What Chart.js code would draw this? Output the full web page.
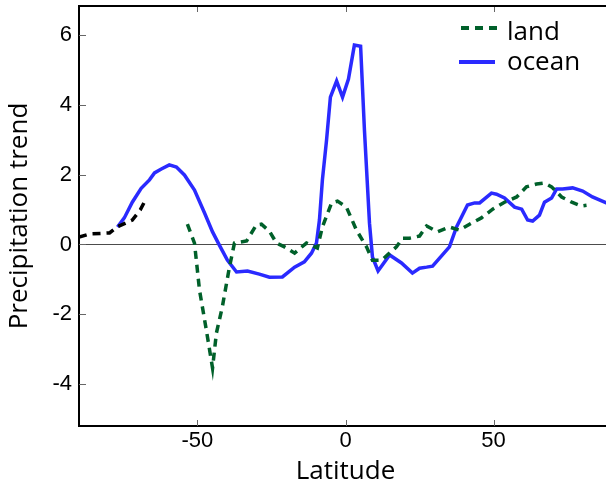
<!DOCTYPE html>
<html>
<head>
<meta charset="utf-8">
<script src="https://cdn.jsdelivr.net/npm/chart.js@4.4.1/dist/chart.umd.min.js"></script>
<style>
  html, body { margin: 0; padding: 0; background: #fff; }
  #wrap { width: 606px; height: 487px; overflow: hidden; position: relative; }
  canvas { display: block; }
</style>
</head>
<body>
<div id="wrap"><canvas id="trendChart" width="620" height="487"></canvas></div>
<script>
// values
const landLat = [-90, -86.5, -79.7, -77, -72, -69.3, -67.2, -60,
  -53.4, -51, -49.3, -47, -44.9, -43.6, -41.6, -39.2, -37.5, -33.4, -30.1, -28.4,
  -25.7, -23.3, -20.6, -17.2, -13.2, -9.5, -7.8, -4.7, -2.7, 0.3, 3.7, 7.1, 9.1,
  12.2, 14.2, 17.2, 19.3, 21.6, 25.0, 27.4, 31.1, 35.1, 38.5, 41.9, 45.9, 49.7,
  53.7, 57.8, 61.1, 64.5, 67.2, 69.6, 73.0, 76.4, 79.7, 81.4];
const landTrend = [0.21, 0.30, 0.33, 0.51, 0.70, 0.99, 1.33, null,
  0.58, 0.04, -1.31, -2.45, -3.54, -2.54, -1.79, -0.65, 0.04, 0.10, 0.56, 0.58,
  0.38, 0.04, -0.07, -0.25, 0.04, -0.10, 0.50, 1.19, 1.24, 1.07, 0.41, -0.07, -0.45,
  -0.45, -0.30, -0.07, 0.18, 0.18, 0.24, 0.53, 0.36, 0.50, 0.41, 0.58, 0.76, 1.01,
  1.21, 1.36, 1.65, 1.73, 1.76, 1.65, 1.36, 1.21, 1.10, 1.12];

const oceanLat = [-77, -74.7, -72, -69, -66.2, -64.5, -62.2, -59.5, -57.1, -54.4,
  -51, -47.6, -44.9, -42.6, -39.9, -36.8, -33.1, -29.1, -25.7, -21.3, -17.2, -13.9,
  -11.5, -9.8, -8.8, -7.8, -6.4, -5.1, -3.0, -1.0, 1.0, 3.0, 5.1, 6.4, 8.1, 9.1,
  11.0, 14.9, 18.9, 22.6, 25.0, 27.4, 29.4, 35.1, 37.5, 41.2, 43.6, 45.3, 49.3, 51.0,
  53.7, 57.1, 59.5, 61.5, 63.2, 65.5, 67.2, 69.6, 71.3, 73.3, 76.7, 80.1, 83.4, 87.5, 90];
const oceanTrend = [0.50, 0.76, 1.21, 1.61, 1.85, 2.05, 2.16, 2.28, 2.22, 1.99,
  1.56, 0.90, 0.36, -0.02, -0.45, -0.79, -0.76, -0.85, -0.94, -0.93, -0.65, -0.50,
  -0.25, 0.04, 0.70, 1.85, 2.99, 4.22, 4.68, 4.22, 4.74, 5.71, 5.68, 3.27, 0.61, -0.36,
  -0.76, -0.30, -0.53, -0.82, -0.68, -0.65, -0.62, -0.07, 0.50, 1.13, 1.19, 1.19, 1.47, 1.44,
  1.33, 1.07, 1.01, 0.70, 0.67, 0.84, 1.21, 1.33, 1.59, 1.59, 1.62, 1.53, 1.36, 1.21, 1.12];

const xTicks = [-50, 0, 50];
const yTicks = [-4, -2, 0, 2, 4, 6];

const green = '#00602a';
const blue = '#2a2aff';
const polarLimit = -60; // land south of this is drawn in black

function toPoints(xs, ys) {
  return xs.map(function (x, i) { return { x: x, y: ys[i] }; });
}

// no extra room for the outer tick labels, the frame sits where it sits
function noScalePadding(s) {
  s.paddingTop = 0;
  s.paddingBottom = 0;
  s.paddingLeft = 0;
  s.paddingRight = 0;
}

// inward tick marks + top frame line, matplotlib style
const frameTicks = {
  id: 'frameTicks',
  afterDatasetsDraw(chart) {
    const ctx = chart.ctx;
    const area = chart.chartArea;
    const xs = chart.scales.x, ys = chart.scales.y;
    ctx.save();
    ctx.strokeStyle = '#666';
    ctx.lineWidth = 1;
    ctx.beginPath();
    xTicks.forEach(function (v) {
      const px = Math.round(xs.getPixelForValue(v)) + 0.5;
      ctx.moveTo(px, area.bottom); ctx.lineTo(px, area.bottom - 6);
      ctx.moveTo(px, area.top); ctx.lineTo(px, area.top + 6);
    });
    yTicks.forEach(function (v) {
      const py = Math.round(ys.getPixelForValue(v)) + 0.5;
      ctx.moveTo(area.left, py); ctx.lineTo(area.left + 7, py);
    });
    ctx.stroke();
    ctx.strokeStyle = '#000';
    ctx.lineWidth = 2;
    ctx.beginPath();
    ctx.moveTo(area.left - 1, area.top);
    ctx.lineTo(area.right + 2, area.top);
    ctx.stroke();
    ctx.restore();
  }
};

// legend in the upper right corner, drawn from the dataset styles
const cornerLegend = {
  id: 'cornerLegend',
  afterDraw(chart) {
    const ctx = chart.ctx;
    const rows = [{ y: 28, textY: 40, x0: 461, x1: 497 }, { y: 62, textY: 70, x0: 459, x1: 495 }];
    ctx.save();
    chart.data.datasets.forEach(function (ds, i) {
      const r = rows[i];
      ctx.strokeStyle = ds.borderColor;
      ctx.lineWidth = 4;
      ctx.setLineDash(ds.borderDash || []);
      ctx.beginPath();
      ctx.moveTo(r.x0, r.y);
      ctx.lineTo(r.x1, r.y);
      ctx.stroke();
      ctx.setLineDash([]);
      ctx.fillStyle = '#000';
      ctx.font = '26px "Open Sans"';
      ctx.textBaseline = 'alphabetic';
      ctx.fillText(ds.label, 507, r.textY);
    });
    ctx.restore();
  }
};

const ctxChart = document.getElementById('trendChart');

new Chart(ctxChart, {
  type: 'line',
  data: {
    datasets: [{
      label: 'land',
      data: toPoints(landLat, landTrend),
      borderColor: green,
      borderDash: [8, 6],
      borderWidth: 3.5,
      pointRadius: 0,
      tension: 0,
      spanGaps: false,
      segment: {
        borderColor: function (c) { return c.p0.parsed.x < polarLimit ? '#000' : green; }
      }
    }, {
      label: 'ocean',
      data: toPoints(oceanLat, oceanTrend),
      borderColor: blue,
      borderWidth: 3.5,
      pointRadius: 0,
      tension: 0
    }]
  },
  options: {
    responsive: false,
    animation: false,
    devicePixelRatio: 1,
    layout: { padding: { top: 6, right: 8, left: 0, bottom: 0 } },
    plugins: {
      legend: { display: false },
      tooltip: { enabled: false }
    },
    scales: {
      x: {
        type: 'linear',
        min: -90,
        max: 90,
        afterBuildTicks: function (s) { s.ticks = xTicks.map(function (v) { return { value: v }; }); },
        afterFit: function (s) { s.height = 61; noScalePadding(s); },
        grid: { display: false, drawTicks: false },
        border: { display: true, color: '#000', width: 2 },
        ticks: {
          color: '#000',
          padding: 2,
          maxRotation: 0,
          font: { family: '"Liberation Sans", Arial, sans-serif', size: 22 }
        },
        title: {
          display: true,
          text: 'Latitude',
          color: '#000',
          padding: { top: 0, bottom: 0 },
          font: { family: '"Open Sans"', size: 26, lineHeight: 1.2 }
        }
      },
      y: {
        min: -5.2,
        max: 6.83,
        afterBuildTicks: function (s) { s.ticks = yTicks.map(function (v) { return { value: v }; }); },
        afterFit: function (s) { s.width = 79; noScalePadding(s); },
        grid: {
          drawTicks: false,
          lineWidth: 1,
          color: function (c) { return c.tick && c.tick.value === 0 ? 'rgba(0,0,0,0.7)' : 'rgba(0,0,0,0)'; }
        },
        border: { display: true, color: '#000', width: 2 },
        ticks: {
          color: '#000',
          padding: 7,
          font: { family: '"Liberation Sans", Arial, sans-serif', size: 22 }
        },
        title: {
          display: true,
          text: 'Precipitation trend',
          color: '#000',
          padding: { top: 4, bottom: 0 },
          font: { family: '"Open Sans"', size: 26, lineHeight: 1.2 }
        }
      }
    }
  },
  plugins: [frameTicks, cornerLegend]
});
</script>
</body>
</html>
